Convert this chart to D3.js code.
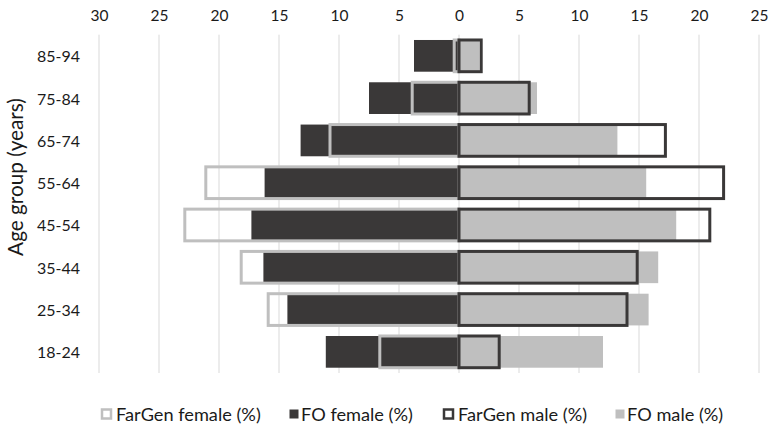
<!DOCTYPE html>
<html>
<head>
<meta charset="utf-8">
<script src="https://cdn.jsdelivr.net/npm/d3@7"></script>
<style>
  html, body { margin: 0; padding: 0; background: #fff; }
  svg { display: block; font-family: Lato, "Open Sans", sans-serif; }
</style>
</head>
<body>
<svg id="chart" width="771" height="428"></svg>
<script>
const ageGroups = ["85-94", "75-84", "65-74", "55-64", "45-54", "35-44", "25-34", "18-24"];
const farGenFemale = [0.4, 3.9, 10.75, 21.1, 22.85, 18.15, 15.9, 6.6];
const foFemale = [3.75, 7.5, 13.2, 16.2, 17.3, 16.3, 14.3, 11.1];
const farGenMale = [1.85, 5.85, 17.2, 22.05, 20.9, 14.85, 14.0, 3.35];
const foMale = [1.7, 6.5, 13.2, 15.6, 18.1, 16.6, 15.8, 12.0];
const xTicks = [-30, -25, -20, -15, -10, -5, 0, 5, 10, 15, 20, 25];
const legendLabels = ["FarGen female (%)", "FO female (%)", "FarGen male (%)", "FO male (%)"];
const yTitle = "Age group (years)";

const DARK = "#3a3838", LIGHT = "#bfbfbf", GRID = "#d9d9d9", TEXT = "#1a1a1a";
const FONT = "Lato, sans-serif";
const svg = d3.select("#chart");
const plot = { left: 99, right: 759, top: 34.7, bottom: 373 };

// font size that makes a sample string a given width (to mimic the narrow original face)
function fitSize(sample, targetWidth) {
  const t = svg.append("text").attr("font-family", FONT).attr("font-size", 100).text(sample);
  const w = t.node().getComputedTextLength();
  t.remove();
  return 100 * targetWidth / w;
}
const tickSize = fitSize("30", 18);
const labelSize = fitSize("85-94", 43);
const titleSize = fitSize(yTitle, 158);
const legendSize = fitSize("FO female (%)", 112);

const x = d3.scaleLinear().domain([-30, 25]).range([plot.left, plot.right]);
const y = d3.scaleBand().domain(ageGroups).range([plot.top, plot.bottom])
  .paddingInner(0.25).paddingOuter(0.125);

// gridlines
svg.append("g").selectAll("line").data(xTicks).join("line")
  .attr("x1", d => x(d)).attr("x2", d => x(d))
  .attr("y1", plot.top).attr("y2", plot.bottom)
  .attr("stroke", GRID).attr("stroke-width", 1);

// top axis labels
const xa = svg.append("g").attr("transform", `translate(0,${plot.top - 11})`)
  .call(d3.axisTop(x).tickValues(xTicks).tickSize(0).tickFormat(d => Math.abs(d)));
xa.select(".domain").remove();
xa.selectAll("text").attr("font-size", tickSize).attr("fill", TEXT).attr("font-family", FONT);

// y labels
svg.append("g").selectAll("text").data(ageGroups).join("text")
  .attr("x", 80).attr("y", d => y(d) + y.bandwidth() / 2)
  .attr("text-anchor", "end").attr("dominant-baseline", "central")
  .attr("font-size", labelSize).attr("fill", TEXT).text(d => d);

// y title
svg.append("text")
  .attr("transform", `translate(14,177) rotate(-90)`)
  .attr("text-anchor", "middle").attr("dominant-baseline", "central")
  .attr("font-size", titleSize).attr("fill", TEXT).text(yTitle);

function bars(values, sign) {
  return svg.append("g").selectAll("rect").data(values.map((v, i) => ({ v, g: ageGroups[i] }))).join("rect")
    .attr("x", d => sign < 0 ? x(-d.v) : x(0))
    .attr("width", d => Math.abs(x(sign * d.v) - x(0)))
    .attr("y", d => y(d.g))
    .attr("height", y.bandwidth());
}

// filled bars
bars(foFemale, -1).attr("fill", DARK);
bars(foMale, 1).attr("fill", LIGHT);
// outline bars
bars(farGenFemale, -1).attr("fill", "none").attr("stroke", LIGHT).attr("stroke-width", 3);
bars(farGenMale, 1).attr("fill", "none").attr("stroke", DARK).attr("stroke-width", 3);

// legend
const legendTextX = [116, 301, 458, 627];
const legendStyles = [
  { fill: "#fff", stroke: LIGHT },
  { fill: DARK, stroke: null },
  { fill: "#fff", stroke: DARK },
  { fill: LIGHT, stroke: null }
];
const lg = svg.append("g").selectAll("g").data(legendLabels).join("g")
  .attr("transform", (d, i) => `translate(${legendTextX[i]},414)`);
lg.append("rect")
  .attr("x", (d, i) => legendStyles[i].stroke ? -14 : -11.5)
  .attr("y", (d, i) => legendStyles[i].stroke ? -4.5 : -4.5)
  .attr("width", (d, i) => legendStyles[i].stroke ? 9 : 9)
  .attr("height", (d, i) => legendStyles[i].stroke ? 9 : 9)
  .attr("fill", (d, i) => legendStyles[i].fill)
  .attr("stroke", (d, i) => legendStyles[i].stroke || "none")
  .attr("stroke-width", 2.5);
lg.append("text").attr("x", 0).attr("y", 0).attr("dominant-baseline", "central")
  .attr("font-size", legendSize).attr("fill", TEXT).text(d => d);
</script>
</body>
</html>
